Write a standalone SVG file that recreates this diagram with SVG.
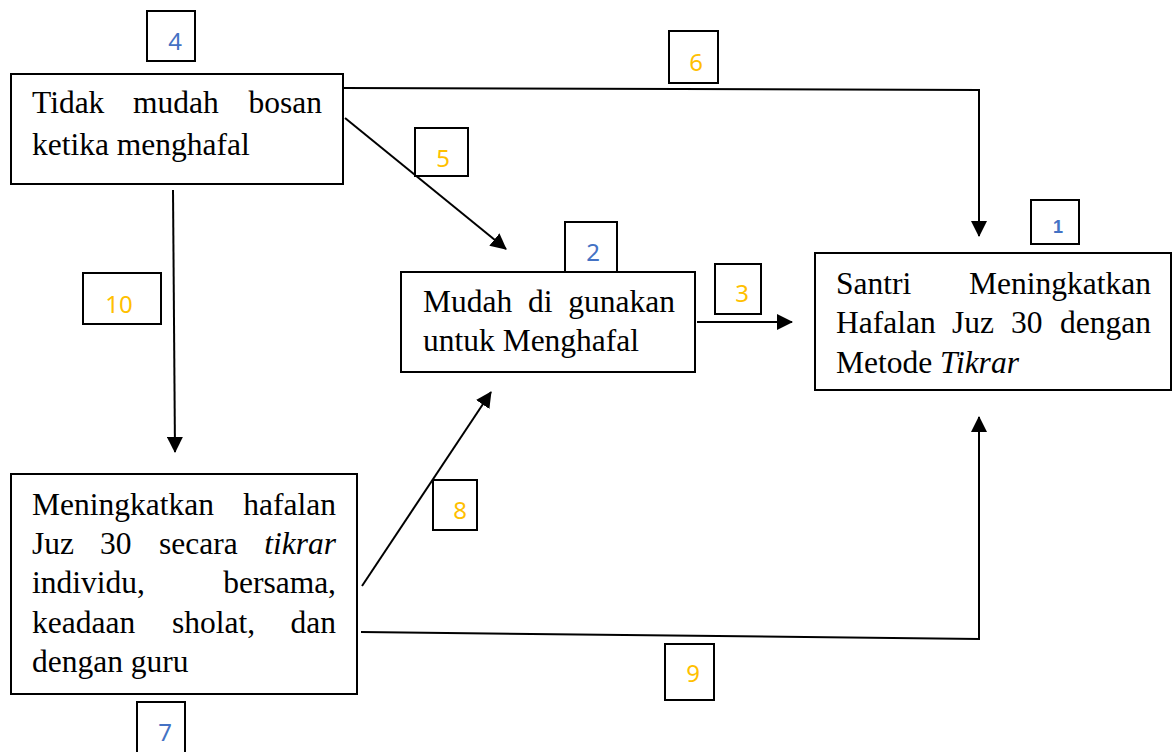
<svg xmlns="http://www.w3.org/2000/svg" width="1174" height="752" viewBox="0 0 1174 752">
<style>
.box{fill:#fff;stroke:#000;stroke-width:2}
.lbl{fill:#fff;stroke:#000;stroke-width:2}
.t{font-family:"Liberation Serif","Times New Roman",serif;font-size:31.5px;fill:#000}
.i{font-style:italic}
.n{font-family:"Noto Sans","Open Sans",sans-serif;font-size:24px;text-anchor:middle}
.blue{fill:#4472C4}
.yel{fill:#FFC000}
.c{fill:none;stroke:#000;stroke-width:2}
</style>
<defs>
<marker id="ah" markerUnits="userSpaceOnUse" markerWidth="16" markerHeight="16" refX="15" refY="8" orient="auto">
<path d="M0,0 L16,8 L0,16 z" fill="#000"/>
</marker>
</defs>
<rect width="1174" height="752" fill="#fff"/>
<g id="connectors">
<polyline class="c" points="343,88 979,90 979,236" marker-end="url(#ah)"/>
<line class="c" x1="345" y1="118" x2="506" y2="249" marker-end="url(#ah)"/>
<line class="c" x1="697" y1="322" x2="792" y2="322" marker-end="url(#ah)"/>
<line class="c" x1="173" y1="190" x2="175" y2="452" marker-end="url(#ah)"/>
<line class="c" x1="362" y1="586" x2="491" y2="392" marker-end="url(#ah)"/>
<polyline class="c" points="361,632 979,639 979,417" marker-end="url(#ah)"/>
</g>
<g id="node-4">
<rect class="box" x="11" y="74" width="332" height="110"/>
<text class="t" y="113"><tspan x="32">Tidak</tspan><tspan x="133">mudah</tspan></text>
<text class="t" x="322" y="113" text-anchor="end">bosan</text>
<text class="t" x="32" y="155">ketika menghafal</text>
</g>
<g id="node-2">
<rect class="box" x="401" y="272" width="294" height="100"/>
<text class="t" y="312"><tspan x="423">Mudah</tspan><tspan x="528">di</tspan></text>
<text class="t" x="675" y="312" text-anchor="end">gunakan</text>
<text class="t" x="423" y="351">untuk Menghafal</text>
</g>
<g id="node-1">
<rect class="box" x="815" y="253" width="356" height="137"/>
<text class="t" x="836" y="294">Santri</text>
<text class="t" x="1151" y="294" text-anchor="end">Meningkatkan</text>
<text class="t" y="333"><tspan x="836">Hafalan</tspan><tspan x="952">Juz</tspan><tspan x="1011">30</tspan></text>
<text class="t" x="1151" y="333" text-anchor="end">dengan</text>
<text class="t" x="836" y="373">Metode <tspan class="i">Tikrar</tspan></text>
</g>
<g id="node-7">
<rect class="box" x="11" y="474" width="346" height="220"/>
<text class="t" x="32" y="515">Meningkatkan</text>
<text class="t" x="336" y="515" text-anchor="end">hafalan</text>
<text class="t" y="554"><tspan x="32">Juz</tspan><tspan x="100">30</tspan><tspan x="159">secara</tspan></text>
<text class="t i" x="336" y="554" text-anchor="end">tikrar</text>
<text class="t" x="32" y="593">individu,</text>
<text class="t" x="336" y="593" text-anchor="end">bersama,</text>
<text class="t" y="633"><tspan x="32">keadaan</tspan><tspan x="172">sholat,</tspan></text>
<text class="t" x="336" y="633" text-anchor="end">dan</text>
<text class="t" x="32" y="672">dengan guru</text>
</g>
<g id="label-4"><rect class="lbl" x="147" y="11" width="48" height="50"/><text class="n blue" x="175" y="50">4</text></g>
<g id="label-6"><rect class="lbl" x="669" y="31" width="49" height="52"/><text class="n yel" x="696" y="71">6</text></g>
<g id="label-5"><rect class="lbl" x="415" y="128" width="53" height="48"/><text class="n yel" x="443" y="167">5</text></g>
<g id="label-2"><rect class="lbl" x="565" y="222" width="52" height="50"/><text class="n blue" x="593" y="261">2</text></g>
<g id="label-3"><rect class="lbl" x="715" y="264" width="46" height="50"/><text class="n yel" x="742" y="302">3</text></g>
<g id="label-1"><rect class="lbl" x="1031" y="200" width="48" height="44"/><text x="1058" y="233" text-anchor="middle" font-family="Liberation Sans, Arial, sans-serif" font-size="18" font-weight="bold" fill="#4472C4">1</text></g>
<g id="label-10"><rect class="lbl" x="83" y="273" width="78" height="51"/><text class="n yel" x="119" y="313">10</text></g>
<g id="label-8"><rect class="lbl" x="433" y="480" width="44" height="50"/><text class="n yel" x="460" y="519">8</text></g>
<g id="label-9"><rect class="lbl" x="665" y="644" width="49" height="56"/><text class="n yel" x="693" y="682">9</text></g>
<g id="label-7"><rect class="lbl" x="137" y="702" width="48" height="54"/><text class="n blue" x="165" y="741">7</text></g>
</svg>
